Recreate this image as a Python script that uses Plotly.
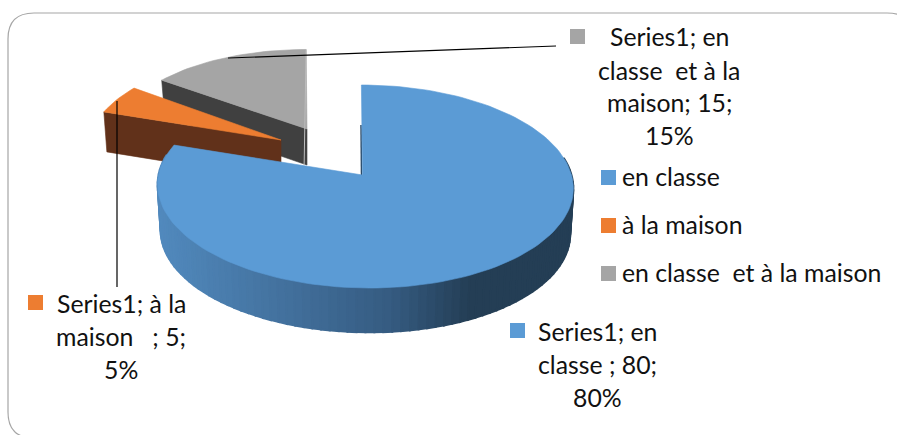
import math
import plotly.graph_objects as go

# chart data
categories = ["en classe", "à la maison", "en classe  et à la maison"]
values = [80, 5, 15]
colors = ["#5B9BD5", "#ED7D31", "#A5A5A5"]
side_colors = [None, "#61311A", "#404040"]

label_lines = [
    ["Series1; en", "classe ; 80;", "80%"],
    ["Series1; à la", "maison   ; 5;", "5%"],
    ["Series1; en", "classe  et à la", "maison; 15;", "15%"],
]

FONT = "Lato, Carlito, Calibri, sans-serif"
FONT_SIZE = 24.8
RX, RY, PERSP = 206.5, 100.2, 0.1134

# each slice: apex in pixels, radius scale, vertical squash, wall depth
placement = [
    dict(apex=(362.5, 175), scale=1.0, squash=1.0, depth=46),
    dict(apex=(281, 140), scale=0.94, squash=1.0, depth=40),
    dict(apex=(307, 129), scale=0.93, squash=0.95, depth=36),
]


def project(theta, r, place):
    # theta in degrees, clockwise from the back of the pie
    apex, scale = place["apex"], place["scale"]
    t = math.radians(theta)
    w = 1 / (1 + PERSP * math.cos(t))
    dx = r * scale * RX * math.sin(t) * w
    dy = -r * scale * place["squash"] * RY * math.cos(t) * w
    return apex[0] + dx + 0.04 * dy + r * 2.5 * scale, apex[1] + dy


def mix(c1, c2, f):
    return "rgb(%d,%d,%d)" % tuple(a + (b - a) * f for a, b in zip(c1, c2))


def poly(fig, pts, color, edge=0.6):
    xs = [p[0] for p in pts] + [pts[0][0]]
    ys = [p[1] for p in pts] + [pts[0][1]]
    fig.add_trace(go.Scatter(
        x=xs, y=ys, mode="lines", fill="toself", fillcolor=color,
        line=dict(color=color, width=edge), hoverinfo="skip", showlegend=False,
    ))


def top_face(start, end, place):
    n = max(2, int((end - start) / 2))
    rim = [project(start + (end - start) * i / n, 1, place) for i in range(n + 1)]
    return [place["apex"]] + rim


def cut_face(theta, place):
    top_a = place["apex"]
    top_b = project(theta, 1, place)
    d = place["depth"]
    return [top_a, top_b, (top_b[0] + 3, top_b[1] + d), (top_a[0], top_a[1] + d)]


# slice angles come from the values
total = sum(values)
angles = []
acc = 0
for v in values:
    angles.append((acc / total * 360, (acc + v) / total * 360))
    acc += v

fig = go.Figure()

# grey and orange slices sit behind the big blue one
for i in [2, 1]:
    start, end = angles[i]
    p = placement[i]
    poly(fig, cut_face(start, p), side_colors[i])
    poly(fig, top_face(start, end, p), colors[i])

# thin edge down the right side of the grey slice
gx, gy = project(angles[2][1], 1, placement[2])
fig.add_trace(go.Scatter(
    x=[gx, gx - 2], y=[gy, placement[2]["apex"][1] + placement[2]["depth"]], mode="lines",
    line=dict(color="#BDBDBD", width=1), hoverinfo="skip", showlegend=False,
))

# blue wall, shaded left to right in strips
p = placement[0]
wall_start, wall_end = 80, min(angles[0][1], 282)
steps = 90
light, mid, dark = (82, 138, 190), (54, 92, 130), (36, 62, 85)
for k in range(steps):
    a = wall_end + (wall_start - wall_end) * k / steps
    b = wall_end + (wall_start - wall_end) * (k + 1) / steps
    ta, tb = project(a, 1, p), project(b, 1, p)
    sa, sb = project(a, 0.985, p), project(b, 0.985, p)
    f = (ta[0] - 157) / 416
    col = mix(light, mid, f / 0.55) if f < 0.55 else mix(mid, dark, min(1, (f - 0.55) / 0.2))
    poly(fig, [ta, tb, (sb[0], sb[1] + p["depth"]), (sa[0], sa[1] + p["depth"])], col, edge=2)

# dark sliver of the blue cut edge
fig.add_trace(go.Scatter(
    x=[p["apex"][0] - 1, p["apex"][0] - 1.5], y=[p["apex"][1] + 1, 125], mode="lines",
    line=dict(color="#2A4A68", width=1.5), hoverinfo="skip", showlegend=False,
))
poly(fig, top_face(angles[0][0], angles[0][1], p), colors[0])

# leader lines
for xs, ys in [([228, 556], [58, 46]), ([117, 117], [101, 287])]:
    fig.add_trace(go.Scatter(
        x=xs, y=ys, mode="lines", line=dict(color="#000000", width=1.2),
        hoverinfo="skip", showlegend=False,
    ))

# colour keys: data labels then legend
key_x = [517.5, 35.5, 577.5, 608.5, 608.5, 608.5]
key_y = [330.5, 302.5, 36.5, 177.5, 225.5, 273.5]
key_c = [colors[0], colors[1], colors[2], colors[0], colors[1], colors[2]]
fig.add_trace(go.Scatter(
    x=key_x, y=key_y, mode="markers",
    marker=dict(symbol="square", size=15, color=key_c, line=dict(width=0)),
    hoverinfo="skip", showlegend=False,
))

annotations = []


def add_text(x, y, text, anchor):
    annotations.append(dict(
        x=x, y=y, xref="x", yref="y", text=text.replace("  ", "\u00a0\u00a0"),
        showarrow=False, xanchor=anchor, yanchor="middle",
        font=dict(family=FONT, size=FONT_SIZE, color="#111111"),
    ))


label_pos = [(597, [331, 364, 397]), (121, [303, 336, 369]), (669, [36.5, 70, 102, 135.5])]
for lines, (cx, ys) in zip(label_lines, label_pos):
    for line, y in zip(lines, ys):
        add_text(cx, y, line, "center")

for cat, y in zip(categories, [176, 224, 272]):
    add_text(620, y, cat, "left")

fig.update_layout(
    width=897,
    height=435,
    margin=dict(l=0, r=0, t=0, b=0),
    paper_bgcolor="white",
    plot_bgcolor="white",
    showlegend=False,
    xaxis=dict(range=[0, 897], visible=False, fixedrange=True),
    yaxis=dict(range=[435, 0], visible=False, fixedrange=True),
    annotations=annotations,
    shapes=[dict(
        type="path", xref="x", yref="y", layer="below",
        path="M 8,39 Q 8,13 34,13 L 887,13 Q 913,13 913,39 L 913,412 Q 913,438 887,438 L 34,438 Q 8,438 8,412 Z",
        line=dict(color="#A6A6A6", width=1.2), fillcolor="rgba(0,0,0,0)",
    )],
)

# the page's default body margin would push the chart 8px in
fig.write_html("out.html", config={"displayModeBar": False},
               post_script="document.body.style.margin='0';document.body.style.overflow='hidden';")
